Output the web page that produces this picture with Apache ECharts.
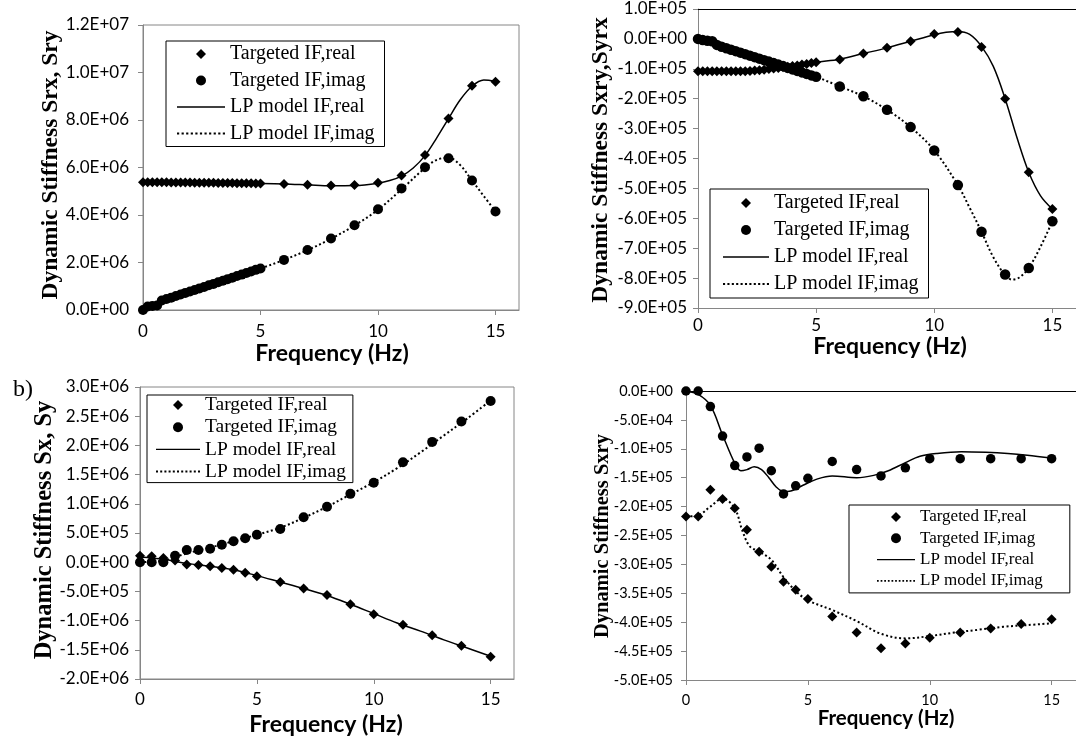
<!DOCTYPE html>
<html><head><meta charset="utf-8">
<script src="https://cdn.jsdelivr.net/npm/echarts@6/dist/echarts.min.js"></script>
<style>html,body{margin:0;padding:0;background:#fff}#c{width:1076px;height:742px}</style>
</head><body><div id="c"></div>
<script>
// ---------- data ----------
// top charts: dense targeted points 0..5 Hz (0.2 Hz), then 1 Hz steps
const freqTop = [0,0.2,0.4,0.6,0.8,1.0,1.2,1.4,1.6,1.8,2.0,2.2,2.4,2.6,2.8,3.0,3.2,3.4,3.6,3.8,4.0,4.2,4.4,4.6,4.8,5.0,6,7,8,9,10,11,12,13,14,15];
const srReal = [5.38e6,5.38e6,5.38e6,5.38e6,5.38e6,5.38e6,5.37e6,5.37e6,5.37e6,5.37e6,5.37e6,5.36e6,5.36e6,5.36e6,5.36e6,5.36e6,5.35e6,5.35e6,5.35e6,5.35e6,5.34e6,5.34e6,5.34e6,5.34e6,5.33e6,5.33e6,5.31e6,5.27e6,5.24e6,5.26e6,5.36e6,5.66e6,6.53e6,8.06e6,9.44e6,9.61e6];
const srImag = [0,0.15e6,0.17e6,0.19e6,0.40e6,0.46e6,0.52e6,0.59e6,0.65e6,0.72e6,0.78e6,0.84e6,0.91e6,0.97e6,1.04e6,1.10e6,1.17e6,1.23e6,1.30e6,1.36e6,1.43e6,1.49e6,1.56e6,1.62e6,1.69e6,1.75e6,2.11e6,2.53e6,3.01e6,3.57e6,4.24e6,5.12e6,6.01e6,6.39e6,5.45e6,4.15e6];
const lpSrRealF = [0,1,2,3,4,5,6,7,8,9,10,10.5,11,11.5,12,12.5,13,13.5,14,14.5,15];
const lpSrReal  = [5.38e6,5.37e6,5.36e6,5.35e6,5.34e6,5.33e6,5.31e6,5.27e6,5.23e6,5.24e6,5.34e6,5.45e6,5.64e6,5.98e6,6.50e6,7.25e6,8.06e6,8.85e6,9.42e6,9.68e6,9.63e6];
const lpSrImagF = [0,0.2,0.4,0.6,0.8,1,2,3,4,5,6,7,8,9,10,11,12,12.5,13,13.5,14,14.5,15];
const lpSrImag  = [0,0.12e6,0.16e6,0.2e6,0.42e6,0.47e6,0.78e6,1.1e6,1.42e6,1.75e6,2.11e6,2.52e6,3.0e6,3.56e6,4.22e6,5.08e6,5.98e6,6.32e6,6.42e6,6.1e6,5.45e6,4.8e6,4.15e6];

const sxryReal = [-1.08e5,-1.08e5,-1.08e5,-1.08e5,-1.08e5,-1.08e5,-1.08e5,-1.08e5,-1.08e5,-1.08e5,-1.08e5,-1.07e5,-1.06e5,-1.05e5,-1.03e5,-1.01e5,-0.99e5,-0.97e5,-0.95e5,-0.93e5,-0.91e5,-0.89e5,-0.86e5,-0.84e5,-0.81e5,-0.78e5,-0.69e5,-0.49e5,-0.30e5,-0.08e5,0.16e5,0.23e5,-0.27e5,-2.0e5,-4.46e5,-5.69e5];
const sxryImag = [0,-0.04e5,-0.06e5,-0.08e5,-0.20e5,-0.26e5,-0.31e5,-0.36e5,-0.41e5,-0.46e5,-0.51e5,-0.56e5,-0.61e5,-0.66e5,-0.71e5,-0.76e5,-0.81e5,-0.86e5,-0.91e5,-0.97e5,-1.02e5,-1.07e5,-1.12e5,-1.17e5,-1.22e5,-1.27e5,-1.59e5,-1.92e5,-2.37e5,-2.95e5,-3.73e5,-4.89e5,-6.45e5,-7.88e5,-7.66e5,-6.10e5];
const lpSxryRealF = [0,1,2,3,4,5,6,7,8,9,10,10.5,11,11.5,12,12.5,13,13.5,14,14.5,15];
const lpSxryReal  = [-1.08e5,-1.08e5,-1.08e5,-1.01e5,-0.91e5,-0.78e5,-0.68e5,-0.49e5,-0.30e5,-0.08e5,0.14e5,0.22e5,0.25e5,0.15e5,-0.25e5,-0.92e5,-2.0e5,-3.3e5,-4.46e5,-5.25e5,-5.69e5];
const lpSxryImagF = [0,1,2,3,4,5,6,7,8,9,10,11,11.5,12,12.5,13,13.3,13.6,14,14.5,15];
const lpSxryImag  = [0,-0.26e5,-0.51e5,-0.76e5,-1.02e5,-1.27e5,-1.59e5,-1.92e5,-2.37e5,-2.95e5,-3.73e5,-4.89e5,-5.65e5,-6.45e5,-7.3e5,-7.9e5,-8.05e5,-7.98e5,-7.66e5,-6.95e5,-6.1e5];

// bottom charts
const freqBot = [0,0.5,1,1.5,2,2.5,3,3.5,4,4.5,5,6,7,8,9,10,11.25,12.5,13.75,15];
const sxReal = [1.1e5,1.0e5,0.7e5,0.3e5,-0.4e5,-0.5e5,-0.7e5,-1.0e5,-1.3e5,-1.8e5,-2.4e5,-3.4e5,-4.5e5,-5.6e5,-7.2e5,-8.9e5,-10.7e5,-12.5e5,-14.3e5,-16.2e5];
const sxImag = [0,0,0,1.1e5,2.1e5,2.1e5,2.3e5,3.0e5,3.6e5,4.1e5,4.7e5,5.7e5,7.7e5,9.5e5,11.7e5,13.6e5,17.1e5,20.6e5,24.1e5,27.6e5];
const lpSxF = [0,1,2,3,4,5,6,7,8,9,10,11,12,13,14,15];
const lpSxReal = [0.09e6,0.05e6,-0.02e6,-0.07e6,-0.13e6,-0.23e6,-0.34e6,-0.45e6,-0.57e6,-0.72e6,-0.88e6,-1.04e6,-1.18e6,-1.33e6,-1.47e6,-1.61e6];
const lpSxImag = [0,0.03e6,0.15e6,0.25e6,0.36e6,0.47e6,0.59e6,0.76e6,0.95e6,1.16e6,1.37e6,1.61e6,1.88e6,2.17e6,2.46e6,2.77e6];

const sxrybReal = [-2.17e5,-2.17e5,-1.71e5,-1.87e5,-2.03e5,-2.40e5,-2.78e5,-3.04e5,-3.30e5,-3.44e5,-3.60e5,-3.90e5,-4.18e5,-4.45e5,-4.37e5,-4.27e5,-4.18e5,-4.11e5,-4.03e5,-3.95e5];
const sxrybImag = [0,0,-0.27e5,-0.78e5,-1.29e5,-1.14e5,-0.99e5,-1.38e5,-1.78e5,-1.64e5,-1.51e5,-1.22e5,-1.36e5,-1.47e5,-1.33e5,-1.17e5,-1.17e5,-1.17e5,-1.17e5,-1.17e5];
const lpSxrybRealF = [0,0.5,1,1.5,2,2.25,2.5,2.8,3.1,3.4,3.7,4,4.3,4.8,5.4,6,7,7.7,8.3,9,9.6,10.3,11.3,12.3,13.2,14,15];
const lpSxrybReal  = [0,-0.06e5,-0.25e5,-0.76e5,-1.25e5,-1.38e5,-1.36e5,-1.31e5,-1.36e5,-1.50e5,-1.66e5,-1.74e5,-1.73e5,-1.63e5,-1.52e5,-1.47e5,-1.50e5,-1.46e5,-1.38e5,-1.24e5,-1.13e5,-1.08e5,-1.05e5,-1.06e5,-1.08e5,-1.11e5,-1.16e5];
const lpSxrybImagF = [0,0.5,1,1.5,2,2.3,2.6,3,3.5,4,4.5,5,6,7,8,9,10,11,12,13,14,15];
const lpSxrybImag  = [-2.17e5,-2.15e5,-2.0e5,-1.86e5,-2.03e5,-2.4e5,-2.68e5,-2.78e5,-2.92e5,-3.22e5,-3.46e5,-3.62e5,-3.79e5,-3.98e5,-4.2e5,-4.28e5,-4.24e5,-4.18e5,-4.13e5,-4.08e5,-4.05e5,-4.02e5];

const names = ['Targeted IF,real','Targeted IF,imag','LP model IF,real','LP model IF,imag'];
const yTitles = ['Dynamic Stiffness Srx, Sry','Dynamic Stiffness Sxry,Syrx','Dynamic Stiffness Sx, Sy','Dynamic Stiffness Sxry'];
const xTitle = 'Frequency (Hz)';

// ---------- build ----------
const AX = '#868686';
const SERIF = "'Liberation Serif','Times New Roman',serif";
const SANS = "Lato,'Open Sans',sans-serif";
function zip(xs, ys){ return xs.map((x,i)=>[x, ys[i]]); }
function expFmt(v){
  if (Math.abs(v) < 1e-6) v = 0;
  const s = v.toExponential(1); const p = s.split('e');
  let d = p[1].slice(1); if (d.length < 2) d = '0' + d;
  return p[0] + 'E' + p[1][0] + d;
}
const grids = [
  {left:143, top:25, width:376, height:285, show:true, borderColor:AX, borderWidth:1},
  {left:698, top:9, width:385, height:299},
  {left:140, top:387, width:374, height:292, show:true, borderColor:AX, borderWidth:1},
  {left:686, top:391, width:401, height:289}
];
const yRanges = [[0,1.2e7,2e6],[-9e5,1e5,1e5],[-2e6,3e6,5e5],[-5e5,0,5e4]];
const fs = [17,17,17,14.5];
const xAxes = grids.map((g,i)=>({
  type:'value', gridIndex:i, min:0, max:16, interval:5,
  axisLine:{show:true, onZero:false, lineStyle:{color:AX, width:1}},
  axisTick:{show:true, length:5, lineStyle:{color:AX}},
  axisLabel:{show:true, showMaxLabel:false, color:'#000', fontFamily:SANS, fontSize:fs[i], margin:[13,9,12,13][i]},
  splitLine:{show:false}
}));
[1,3].forEach(i=>xAxes.push({type:'value', gridIndex:i, position:'top', min:0, max:16,
  axisLine:{show:true, onZero:false, lineStyle:{color:'#000', width:1.2}}, axisTick:{show:false}, axisLabel:{show:false}, splitLine:{show:false}}));
const yAxes = grids.map((g,i)=>({
  type:'value', gridIndex:i, min:yRanges[i][0], max:yRanges[i][1], interval:yRanges[i][2],
  axisLine:{show:true, onZero:false, lineStyle:{color:AX, width:1}},
  axisTick:{show:true, length:5, lineStyle:{color:AX}},
  axisLabel:{color:'#000', fontFamily:SANS, fontSize:fs[i], margin:[14,11,11,13][i], formatter:expFmt},
  splitLine:{show:false}
}));
const sets = [
  {f:freqTop, re:srReal, im:srImag, lrf:lpSrRealF, lr:lpSrReal, lif:lpSrImagF, li:lpSrImag, ds:10, cs:10},
  {f:freqTop, re:sxryReal, im:sxryImag, lrf:lpSxryRealF, lr:lpSxryReal, lif:lpSxryImagF, li:lpSxryImag, ds:10, cs:10.5},
  {f:freqBot, re:sxReal, im:sxImag, lrf:lpSxF, lr:lpSxReal, lif:lpSxF, li:lpSxImag, ds:10, cs:10},
  {f:freqBot, re:sxrybReal, im:sxrybImag, lrf:lpSxrybRealF, lr:lpSxrybReal, lif:lpSxrybImagF, li:lpSxrybImag, ds:10, cs:9.5}
];
const series = [];
sets.forEach((s,i)=>{
  series.push({name:names[2], type:'line', xAxisIndex:i, yAxisIndex:i, data:zip(s.lrf,s.lr), smooth:0.35, symbol:'none', showSymbol:false,
    lineStyle:{color:'#000', width:1.5, type:'solid'}, itemStyle:{color:'#000'}, z:2});
  series.push({name:names[3], type:'line', xAxisIndex:i, yAxisIndex:i, data:zip(s.lif,s.li), smooth:0.35, symbol:'none', showSymbol:false,
    lineStyle:{color:'#000', width:2, type:[2,2.5]}, itemStyle:{color:'#000'}, z:2});
  series.push({name:names[0], type:'scatter', xAxisIndex:i, yAxisIndex:i, data:zip(s.f,s.re), symbol:'diamond', symbolSize:s.ds, itemStyle:{color:'#000', opacity:1}, z:3});
  series.push({name:names[1], type:'scatter', xAxisIndex:i, yAxisIndex:i, data:zip(s.f,s.im), symbol:'circle', symbolSize:s.cs, itemStyle:{color:'#000', opacity:1}, z:3});
});
// legend icons (shapes only)
const iconDiamond = 'path://M5,0L10,5L5,10L0,5Z';
const iconSolid = 'path://M0,0H48V1.5H0Z';
let dp = 'path://';
for (let k = 0; k < 11; k++) { const x = k * 4.6; dp += 'M' + x + ',0h2.2v2.2h-2.2Z'; }
const iconDotted = dp;
const legPos = [
  {left:166, top:41, itemWidth:48, fontSize:20, lineHeight:20, itemGap:6.5, padding:[3,10,3,11]},
  {left:710, top:189, itemWidth:46, fontSize:20, lineHeight:20, itemGap:7, padding:[4,10,4,13]},
  {left:147, top:395, itemWidth:44, fontSize:19.5, lineHeight:20, itemGap:2.2, padding:[0,7,1,9]},
  {left:849, top:505, itemWidth:38, fontSize:17, lineHeight:18, itemGap:3.3, padding:[3,27,3,28]}
];
const legends = legPos.map(p=>({
  show:true, orient:'vertical', left:p.left, top:p.top, itemWidth:p.itemWidth, itemHeight:10, itemGap:p.itemGap,
  padding:p.padding, borderColor:'#000', borderWidth:1, backgroundColor:'#fff', selectedMode:false, symbolKeepAspect:true,
  textStyle:{fontFamily:SERIF, fontSize:p.fontSize, lineHeight:p.lineHeight, color:'#000'},
  data:[{name:names[0], icon:iconDiamond},{name:names[1], icon:'circle'},{name:names[2], icon:iconSolid},{name:names[3], icon:iconDotted}]
}));
const yT = [
  {x:51, y:165, size:23.5}, {x:601, y:160, size:23.5}, {x:45, y:530, size:24.5}, {x:603, y:536, size:20.5}
];
const xT = [
  {x:332, y:354, size:23}, {x:890, y:347, size:23}, {x:326, y:725, size:23}, {x:886, y:718, size:20.5}
];
const graphic = [];
yT.forEach((t,i)=>graphic.push({type:'text', x:t.x, y:t.y, rotation:Math.PI/2, z:10,
  style:{text:yTitles[i], font:'bold '+t.size+'px '+SERIF, fill:'#000', align:'center', verticalAlign:'middle'}}));
xT.forEach((t,i)=>graphic.push({type:'text', x:t.x, y:t.y, z:10,
  style:{text:xTitle, font:'bold '+t.size+'px '+SANS, fill:'#000', align:'center', verticalAlign:'middle'}}));
graphic.push({type:'text', x:23, y:390, z:10, style:{text:'b)', font:'24px '+SERIF, fill:'#000', align:'center', verticalAlign:'middle'}});

const chart = echarts.init(document.getElementById('c'), null, {renderer:'canvas'});
chart.setOption({
  animation:false, backgroundColor:'#fff',
  grid:grids, xAxis:xAxes, yAxis:yAxes, legend:legends, series:series, graphic:graphic
});
</script></body></html>
